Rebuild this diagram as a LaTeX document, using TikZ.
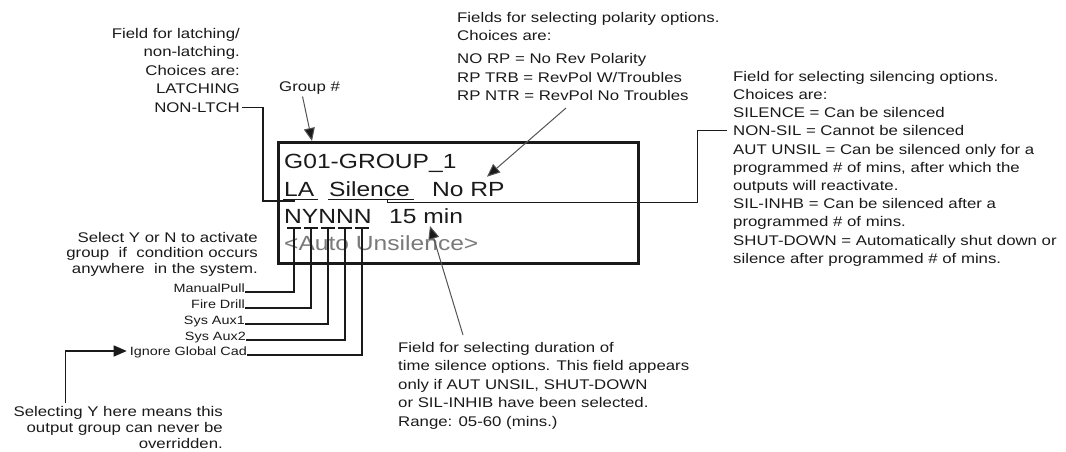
\documentclass[tikz,border=0pt]{standalone}
\usepackage{fontspec}
\setmainfont{Liberation Sans}[FakeStretch=1.2]
\usetikzlibrary{positioning, arrows.meta, calc}
\usepackage{xcolor}

\definecolor{ink}{HTML}{1A1A1A}
\definecolor{dimtext}{HTML}{7A7A7A}

\begin{document}
\begin{tikzpicture}[
    x=1pt, y=-1pt,
    note/.style={inner sep=0pt, text=ink, font=\fontsize{14}{18.5}\selectfont},
    notel/.style={note, anchor=north west, align=left},
    noter/.style={note, anchor=north east, align=right},
    tag/.style={inner sep=0pt, anchor=base east, text=ink, font=\fontsize{12}{14}\selectfont},
    lcd/.style={inner sep=0pt, anchor=base west, text=ink, font=\fontsize{20.5}{24}\selectfont},
    frame/.style={draw=ink, line width=2.6pt, inner sep=0pt, anchor=north west},
    lead/.style={draw=ink, line width=1.3pt},
    pointer/.style={draw=ink!75, line width=1pt, -{Triangle[length=13pt, width=11pt, fill=ink]}}
]
    \useasboundingbox (0,0) rectangle (1066,452);

    % display window
    \node[frame, minimum width=360pt, minimum height=121pt] (screen) at (277,141) {};
    \node[lcd] (grp) at (284,168) {G01-GROUP\_1};
    \node[lcd] (la) at (284,196) {LA};
    \node[lcd] (sil) at (329,196) {Silence};
    \node[lcd] (rp) at (432,196) {No RP};
    \node[lcd] (flags) at (284,223) {NYNNN};
    \node[lcd] (mins) at (389,223) {15 min};
    \node[lcd, text=dimtext] (auto) at (284,250) {<Auto Unsilence>};

    \draw[lead] ([xshift=-1pt, yshift=-3pt]la.south west) -- ([xshift=4pt, yshift=-3pt]la.south east);
    \draw[lead] ([xshift=-1pt, yshift=-3pt]sil.south west) -- ([xshift=4pt, yshift=-3pt]sil.south east);

    % notes
    \node[noter] (latch) at (240,28) {Field for latching/\\non-latching.\\Choices are:\\LATCHING\\NON-LTCH};
    \node[note, anchor=west] (grplbl) at (279,88) {Group \#};
    \node[notel] (polnote) at (457,12) {Fields for selecting polarity options.\\Choices are:\\[4.5pt]NO RP = No Rev Polarity\\RP TRB = RevPol W/Troubles\\RP NTR = RevPol No Troubles};
    \node[notel, font=\fontsize{14}{18.2}\selectfont] (silnote) at (733,71) {Field for selecting silencing options.\\Choices are:\\SILENCE = Can be silenced\\NON-SIL = Cannot be silenced\\AUT UNSIL = Can be silenced only for a\\programmed \# of mins, after which the\\outputs will reactivate.\\SIL-INHB = Can be silenced after a\\programmed \# of mins.\\SHUT-DOWN = Automatically shut down or\\silence after programmed \# of mins.};
    \node[noter, font=\fontsize{14}{15.5}\selectfont] (selnote) at (258,232) {Select Y or N to activate\\group\ \ if\ \ condition occurs\\anywhere\ \ in the system.};
    \node[notel] (durnote) at (398,342) {Field for selecting duration of\\time silence options. This field appears\\only if AUT UNSIL, SHUT-DOWN\\or SIL-INHIB have been selected.\\Range: 05-60 (mins.)};
    \node[noter, font=\fontsize{14}{16}\selectfont] (cadnote) at (223,406) {Selecting Y here means this\\output group can never be\\overridden.};

    % input tags
    \node[tag] (manual) at (245,292) {ManualPull};
    \node[tag] (drill) at (245,308) {Fire Drill};
    \node[tag] (auxa) at (245,324) {Sys Aux1};
    \node[tag] (auxb) at (246,340) {Sys Aux2};
    \node[tag] (ign) at (247,355) {Ignore Global Cad};

    \coordinate (t1) at (294,228);
    \coordinate (t2) at (311,228);
    \coordinate (t3) at (328,228);
    \coordinate (t4) at (345,228);
    \coordinate (t5) at (362,228);
    \foreach \t in {t1,t2,t3,t4,t5}
        \draw[lead] ([xshift=-7pt]\t) -- ([xshift=7pt]\t);

    \draw[lead] (manual.base east) -| (t1);
    \draw[lead] (drill.base east) -| (t2);
    \draw[lead] (auxa.base east) -| (t3);
    \draw[lead] (auxb.base east) -| (t4);
    \draw[lead] (ign.base east) -| (t5);

    % leaders
    \coordinate (latchend) at ([xshift=2pt, yshift=5pt]latch.south east);
    \coordinate (labend) at (263,201);
    \draw[lead] (latchend) -| (labend) -| ([xshift=10pt, yshift=-3pt]la.south west);

    \coordinate (silend) at ([xshift=-6pt, yshift=-59.5pt]silnote.north west);
    \coordinate (silbend) at (697,202);
    \draw[lead, line width=1pt] ([xshift=58pt, yshift=-3pt]sil.south west) |- (silbend) |- (silend);

    % arrows
    \draw[pointer] ([xshift=-7pt, yshift=-2pt]grplbl.south) -- ([xshift=35pt]screen.north west);
    \coordinate (polstart) at (566,108);
    \draw[pointer] (polstart) -- ([xshift=55pt, yshift=5pt]rp.north west);
    \draw[pointer] ([xshift=65pt, yshift=7pt]durnote.north west) -- ([xshift=41pt, yshift=-3pt]mins.base west);
    \coordinate (cadstart) at ([xshift=52pt, yshift=3pt]cadnote.north west);
    \draw[pointer, draw=ink, line width=1.3pt] (cadstart) |- ([xshift=-3pt, yshift=4pt]ign.base west);
\end{tikzpicture}
\end{document}
